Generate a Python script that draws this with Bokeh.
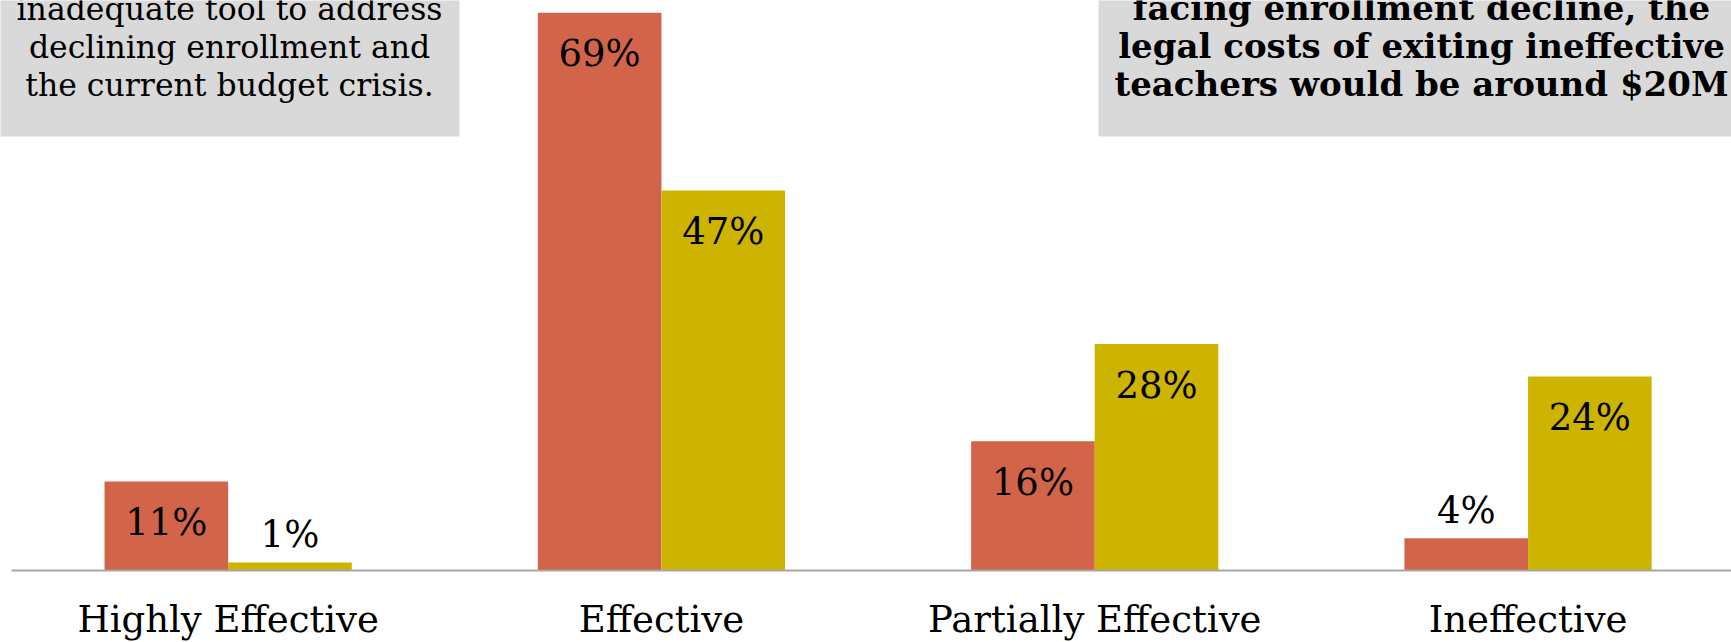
from bokeh.plotting import figure
from bokeh.models import Range1d
from bokeh.core.properties import value
from bokeh.embed import file_html
from bokeh.resources import INLINE

# ---- data ----
categories = ["Highly Effective", "Effective", "Partially Effective", "Ineffective"]
series_a = [11, 69, 16, 4]     # orange-red bars
series_b = [1, 47, 28, 24]     # gold bars
left_note = ["inadequate tool to address", "declining enrollment and", "the current budget crisis."]
right_note = ["facing enrollment decline, the", "legal costs of exiting ineffective", "teachers would be around $20M"]

RED = "#D26549"
GOLD = "#CDB400"
BOXGRAY = "#D9D9D9"
FONT = "DejaVu Serif"

W, H = 1731, 642
K = 8.085      # px per percentage point
X0 = 11        # px where first category starts
CW = 433.3     # px per category
BASE = 570     # px of baseline
DESC = 0.24    # baseline correction (fraction of font size)


def xd(px):
    return (px - X0) / CW


def yd(py):
    return (BASE - py) / K


def ybase(py, fs):
    # desired alphabetic baseline at pixel py for font size fs
    return yd(py - DESC * fs)


p = figure(width=W, height=H, output_backend="svg", toolbar_location=None,
           x_range=Range1d(xd(0), xd(W)), y_range=Range1d(yd(H), yd(0)),
           min_border=0, min_border_left=0, min_border_right=0,
           min_border_top=0, min_border_bottom=0)
p.axis.visible = False
p.grid.visible = False
p.outline_line_color = None
p.background_fill_color = "white"
p.border_fill_color = "white"

bw = 0.2853
xa = [i + 0.5 - bw / 2 for i in range(len(categories))]
xb = [i + 0.5 + bw / 2 for i in range(len(categories))]

p.vbar(x=xa, top=series_a, bottom=0, width=bw, fill_color=RED, line_color=None)
p.vbar(x=xb, top=series_b, bottom=0, width=bw, fill_color=GOLD, line_color=None)

# baseline
p.segment(x0=[0], y0=[0], x1=[len(categories) + 0.2], y1=[0], line_color="#A6A6A6", line_width=2)

# value labels
VFS = 37
inside_off = (50 - DESC * VFS) / K
outside_off = (19 + DESC * VFS) / K
lx, ly, lt = [], [], []
for xs, vals in ((xa, series_a), (xb, series_b)):
    for x, v in zip(xs, vals):
        lx.append(x)
        ly.append(v - inside_off if v * K > 60 else v + outside_off)
        lt.append(f"{v}%")
p.text(x=lx, y=ly, text=lt, text_align="center", text_baseline="alphabetic",
       text_font=value(FONT), text_font_size=f"{VFS}px", text_color="black")

# category labels
CFS = 37
p.text(x=[i + 0.5 for i in range(len(categories))], y=[ybase(628, CFS)] * len(categories), text=categories,
       text_align="center", text_baseline="alphabetic",
       text_font=value(FONT), text_font_size=f"{CFS}px", text_color="black")

# note boxes
p.quad(left=[xd(-10)], right=[xd(459)], bottom=[yd(136)], top=[yd(-10)], fill_color=BOXGRAY, line_color=None)
p.quad(left=[xd(1098)], right=[xd(1745)], bottom=[yd(136)], top=[yd(-10)], fill_color=BOXGRAY, line_color=None)

baselines = [16, 54, 92]
LFS, RFS = 31.5, 34
p.text(x=[xd(229)] * 3, y=[ybase(b, LFS) for b in baselines], text=left_note,
       text_align="center", text_baseline="alphabetic",
       text_font=value(FONT), text_font_size=f"{LFS}px", text_color="black")
p.text(x=[xd(1421)] * 3, y=[ybase(b, RFS) for b in baselines], text=right_note,
       text_align="center", text_baseline="alphabetic",
       text_font=value(FONT), text_font_size=f"{RFS}px", text_font_style="bold", text_color="black")

open("out.html", "w").write(file_html(p, INLINE))
